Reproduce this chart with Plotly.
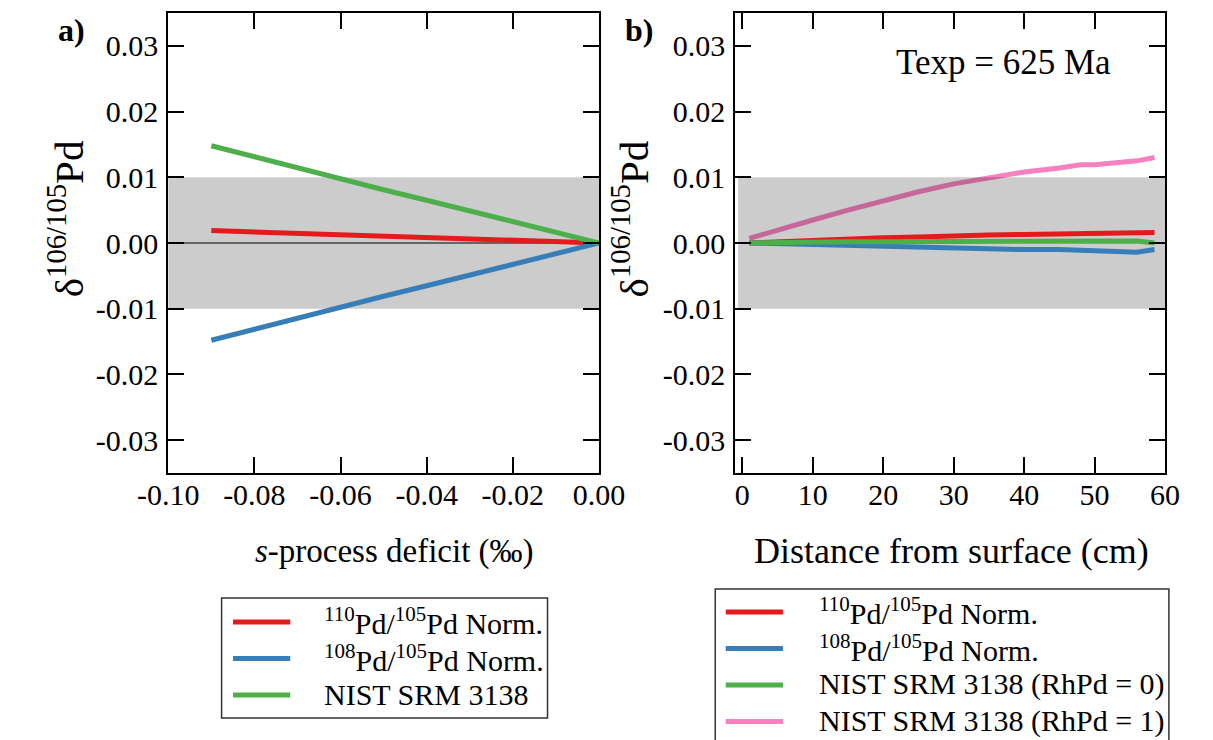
import plotly.graph_objects as go

# ---- panel a: s-process deficit ----
deficit = [-0.09, -0.08, -0.07, -0.06, -0.05, -0.04, -0.03, -0.02, -0.01, 0.00]
a_pd110 = [0.0019, 0.0017, 0.0015, 0.0013, 0.0011, 0.0008, 0.0006, 0.0004, 0.0002, 0.0]
a_pd108 = [-0.0148, -0.0131, -0.0115, -0.0098, -0.0081, -0.0065, -0.0049, -0.0032, -0.0016, 0.0]
a_nist = [0.0148, 0.0131, 0.0115, 0.0098, 0.0081, 0.0065, 0.0049, 0.0032, 0.0016, 0.0]

# ---- panel b: depth profile, Texp = 625 Ma ----
distance = [1, 5, 10, 15, 20, 25, 30, 35, 40, 45, 48, 50, 52, 54, 56, 58.5]
b_pd110 = [0.0000, 0.0002, 0.0004, 0.0006, 0.0008, 0.0009, 0.0011, 0.0012, 0.0013,
           0.0014, 0.0014, 0.0015, 0.0015, 0.0015, 0.0016, 0.0016]
b_pd108 = [0.0000, -0.0001, -0.0003, -0.0004, -0.0006, -0.0007, -0.0008, -0.0009,
           -0.0010, -0.0010, -0.0011, -0.0011, -0.0011, -0.0012, -0.0014, -0.0010]
b_nist0 = [0.0000, 0.0001, 0.0001, 0.0002, 0.0002, 0.0002, 0.0002, 0.0002, 0.0003,
           0.0003, 0.0003, 0.0003, 0.0003, 0.0003, 0.0003, 0.0000]
b_nist1 = [0.0007, 0.0020, 0.0035, 0.0050, 0.0064, 0.0078, 0.0090, 0.0099, 0.0108,
           0.0114, 0.0119, 0.0119, 0.0121, 0.0124, 0.0125, 0.0130]

band = [-0.01, 0.01]  # analytical uncertainty band

y_ticks = [-0.03, -0.02, -0.01, 0.0, 0.01, 0.02, 0.03]
y_ticktext = ["-0.03", "-0.02", "-0.01", "0.00", "0.01", "0.02", "0.03"]
xa_ticks = [-0.10, -0.08, -0.06, -0.04, -0.02, 0.00]
xa_ticktext = ["-0.10", "-0.08", "-0.06", "-0.04", "-0.02", "0.00"]
xb_ticks = [0, 10, 20, 30, 40, 50, 60]

RED, BLUE, GREEN, PINK = "#e41a1c", "#377eb8", "#4daf4a", "#f781bf"
LW = 5
FONT = "Liberation Serif"

lbl_110 = "<sup>110</sup>Pd/<sup>105</sup>Pd Norm."
lbl_108 = "<sup>108</sup>Pd/<sup>105</sup>Pd Norm."
a_labels = [lbl_110, lbl_108, "NIST SRM 3138"]
a_colors = [RED, BLUE, GREEN]
b_labels = [lbl_110, lbl_108, "NIST SRM 3138 (RhPd = 0)", "NIST SRM 3138 (RhPd = 1)"]
b_colors = [RED, BLUE, GREEN, PINK]

fig = go.Figure()

# panel a traces
for yv, name, col in zip([a_pd110, a_pd108, a_nist], a_labels, a_colors):
    fig.add_trace(go.Scatter(x=deficit, y=yv, mode="lines", name=name,
                             line=dict(color=col, width=LW), xaxis="x", yaxis="y",
                             showlegend=False))

# panel b: the RhPd = 1 curve sits underneath the translucent band
fig.add_trace(go.Scatter(x=distance, y=b_nist1, mode="lines", name=b_labels[3],
                         line=dict(color=PINK, width=LW), xaxis="x2", yaxis="y2",
                         showlegend=False))
fig.add_trace(go.Scatter(x=[-0.6, 60.4, 60.4, -0.6, -0.6],
                         y=[band[0], band[0], band[1], band[1], band[0]],
                         mode="lines", fill="toself", fillcolor="rgba(0,0,0,0.2)",
                         line=dict(width=0), hoverinfo="skip", showlegend=False,
                         xaxis="x2", yaxis="y2"))
for yv, name, col in zip([b_pd110, b_pd108, b_nist0], b_labels[:3], b_colors[:3]):
    fig.add_trace(go.Scatter(x=distance, y=yv, mode="lines", name=name,
                             line=dict(color=col, width=LW), xaxis="x2", yaxis="y2",
                             showlegend=False))

W, H = 1213, 740
axis_common = dict(showline=True, linewidth=2, linecolor="black", mirror="ticks",
                   ticks="inside", ticklen=16, tickwidth=2, tickcolor="black",
                   showgrid=False, zeroline=False,
                   tickfont=dict(family=FONT, size=30, color="black"))

fig.update_layout(
    width=W, height=H,
    margin=dict(l=0, r=0, t=0, b=0),
    paper_bgcolor="white", plot_bgcolor="white",
    font=dict(family=FONT, size=30, color="black"),
    showlegend=False,
    xaxis=dict(domain=[144 / W, 596 / W], range=[-0.10, 0.0], anchor="y",
               tickvals=xa_ticks, ticktext=xa_ticktext, ticklabelstandoff=-6,
               **axis_common),
    yaxis=dict(domain=[1 - 473 / H, 1 - 13 / H], range=[-0.035, 0.035], anchor="x",
               tickvals=y_ticks, ticktext=y_ticktext, ticklabelstandoff=2,
               **axis_common),
    xaxis2=dict(domain=[739 / W, 1190 / W], range=[-1, 60], anchor="y2",
                tickvals=xb_ticks, ticklabelstandoff=-6, **axis_common),
    yaxis2=dict(domain=[1 - 473 / H, 1 - 13 / H], range=[-0.035, 0.035], anchor="x2",
                tickvals=y_ticks, ticktext=y_ticktext, ticklabelstandoff=2,
                **axis_common),
)

# grey band and zero line for panel a
fig.add_shape(type="rect", xref="x", yref="y", x0=-0.10, x1=0.0, y0=band[0], y1=band[1],
              fillcolor="#cccccc", line=dict(width=0), layer="below")
fig.add_shape(type="line", xref="x", yref="y", x0=-0.10, x1=0.0, y0=0, y1=0,
              line=dict(color="black", width=1), layer="below")


def px(x):
    return x / W


def py(y):
    return 1 - y / H


def text(t, x, y, size, xanchor="center", angle=0):
    fig.add_annotation(xref="paper", yref="paper", showarrow=False, text=t,
                       x=px(x), y=py(y), xanchor=xanchor, yanchor="middle",
                       textangle=angle,
                       font=dict(family=FONT, size=size, color="black"))


# legend boxes: frame, colour swatches and labels
def legend_box(labels, colors, left, top, right, bottom, row0, step, sw0, sw1, tx):
    fig.add_shape(type="rect", xref="paper", yref="paper",
                  x0=px(left), x1=px(right), y0=py(bottom), y1=py(top),
                  line=dict(color="#333333", width=1.5), fillcolor="white")
    for i, (lab, col) in enumerate(zip(labels, colors)):
        yy = row0 + i * step
        fig.add_shape(type="line", xref="paper", yref="paper",
                      x0=px(sw0), x1=px(sw1), y0=py(yy), y1=py(yy),
                      line=dict(color=col, width=LW))
        text(lab, tx, yy - 1, 30, xanchor="left")


legend_box(a_labels, a_colors, 200, 598, 542, 718, 622, 36.5, 212, 272, 305)
legend_box(b_labels, b_colors, 718, 589, 1194, 760, 612, 36.5, 729, 789, 825)

ytitle = "δ<sup>106/105</sup>Pd"
text("<b>a)</b>", 43, 30, 32)
text("<b>b)</b>", 638, 30, 32)
text("Texp = 625 Ma", 1020, 62, 35)
text(ytitle, 37, 219, 41, angle=-90)
text(ytitle, 629, 219, 41, angle=-90)
text("<i>s</i>-process deficit (‰)", 381, 551, 33)
text("Distance from surface (cm)", 966, 551, 36)

fig.write_html("out.html")
